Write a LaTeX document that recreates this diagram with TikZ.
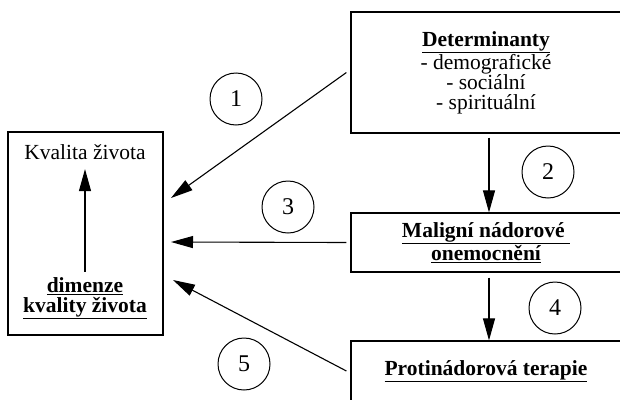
\documentclass[tikz,border=0pt]{standalone}
\usepackage{fontspec}
\setmainfont{Liberation Serif}
\usetikzlibrary{arrows.meta}

\tikzset{
    box/.style={draw, line width=1.2pt, inner sep=0pt},
    num/.style={draw, circle, line width=1pt, minimum size=52pt, inner sep=0pt, font=\fontsize{24}{24}\selectfont},
    arr/.style={-{Triangle[length=22pt, width=12pt]}, line width=1.1pt},
    txt/.style={align=center, font=\fontsize{21.5}{20}\selectfont}
}

\begin{document}
\begin{tikzpicture}[x=1pt, y=-1pt]
    \useasboundingbox (0,0) rectangle (620,399);
    \clip (0,0) rectangle (620,399);

    % Kvalita zivota
    \node[box, minimum width=155pt, minimum height=203pt] (kz) at (85.5,233.5) {};
    \node[txt] (kvalita) at (85,152) {Kvalita života};
    \node[txt] (dim) at (85,298) {\textbf{\underline{dimenze}}\\\textbf{\underline{kvality života}}};
    \draw[arr] ([yshift=2]dim.north) -- ([yshift=-6]kvalita.south);

    % Pravy sloupec
    \node[box, minimum width=270pt, minimum height=121pt] (det) at (486,72.5) {};
    \node[txt] at (det.center) {\textbf{\underline{Determinanty}}\\- demografické\\- sociální\\- spirituální};
    \node[box, minimum width=270pt, minimum height=59pt] (mal) at (486,242.5) {};
    \node[txt] at (mal.center) {\textbf{\underline{Maligní nádorové\ }}\\\textbf{\underline{onemocnění}}};
    \node[box, minimum width=270pt, minimum height=60pt] (ter) at (486,371) {};
    \node[txt] at (ter.center) {\textbf{\underline{Protinádorová terapie}}};

    % Sipky
    \coordinate (in1) at (171,198);
    \coordinate (in3) at (171,242);
    \coordinate (in5) at (173,280);
    \draw[arr] ([xshift=-4]det.west) -- (in1);
    \draw[arr] ([xshift=-4]mal.west) -- (in3);
    \draw[arr] ([xshift=-4]ter.west) -- (in5);
    \draw[arr] ([xshift=3,yshift=-4]det.south) -- ([xshift=3]mal.north);
    \draw[arr] ([xshift=3,yshift=-5]mal.south) -- ([xshift=3]ter.north);

    % Cisla
    \node[num] (n1) at (236,99) {1};
    \node[num] (n2) at (548,172) {2};
    \node[num] (n3) at (288,207) {3};
    \node[num] (n4) at (555,308) {4};
    \node[num] (n5) at (244,364) {5};
\end{tikzpicture}
\end{document}
